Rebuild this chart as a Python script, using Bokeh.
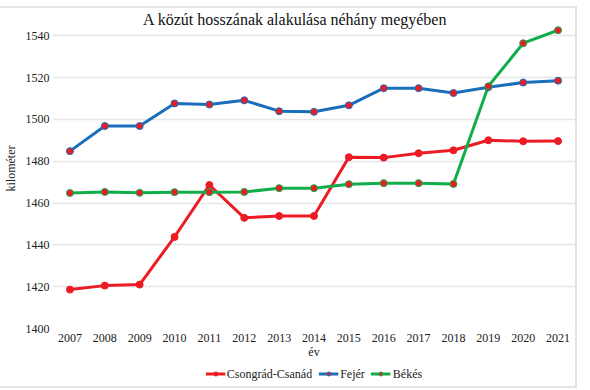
from bokeh.plotting import figure
from bokeh.layouts import column
from bokeh.models import Legend, LegendItem, FixedTicker, ColumnDataSource, Label
from bokeh.embed import file_html
from bokeh.resources import INLINE

years = list(range(2007, 2022))
csongrad = [1418.6, 1420.5, 1421.0, 1443.8, 1468.6, 1452.9, 1453.8, 1453.8,
            1481.9, 1481.7, 1483.8, 1485.2, 1490.0, 1489.5, 1489.6]
fejer = [1484.8, 1496.8, 1496.8, 1507.6, 1507.1, 1509.1, 1503.9, 1503.6,
         1506.7, 1514.9, 1514.9, 1512.6, 1515.3, 1517.6, 1518.5]
bekes = [1464.8, 1465.3, 1464.9, 1465.2, 1465.2, 1465.3, 1467.1, 1467.1,
         1469.0, 1469.5, 1469.5, 1469.1, 1515.8, 1536.4, 1542.6]
series_names = ["Csongrád-Csanád", "Fejér", "Békés"]
line_colors = ["#ec1c24", "#1a6fba", "#12ad4b"]
marker_color = "#ec1c24"
y_ticks = [1400, 1420, 1440, 1460, 1480, 1500, 1520, 1540]
title_text = "A közút hosszának alakulása néhány megyében"

FONT = "Liberation Serif"

p = figure(width=575, height=353, output_backend="svg", toolbar_location=None,
           x_range=(2006.5, 2021.5), y_range=(1400, 1553),
           min_border_left=0, min_border_right=0, min_border_top=0, min_border_bottom=0)

p.outline_line_color = None
p.xgrid.grid_line_color = None
p.ygrid.grid_line_color = "#e6e6e6"
p.ygrid.grid_line_width = 1.5

p.xaxis.ticker = FixedTicker(ticks=years)
p.yaxis.ticker = FixedTicker(ticks=y_ticks)
for ax in (p.xaxis, p.yaxis):
    ax.axis_line_color = None
    ax.major_tick_line_color = None
    ax.minor_tick_line_color = None
    ax.major_tick_out = 0
    ax.major_tick_in = 0
    ax.minor_tick_out = 0
    ax.minor_tick_in = 0
    ax.major_label_text_font = FONT
    ax.major_label_text_font_size = "12px"
    ax.major_label_text_color = "#222222"
    ax.axis_label_text_font = FONT
    ax.axis_label_text_font_size = "12px"
    ax.axis_label_text_font_style = "normal"
    ax.axis_label_text_color = "#222222"
p.xaxis.axis_label = "év"
p.yaxis.axis_label = "kilométer"
p.xaxis.major_label_standoff = 5
p.xaxis.axis_label_standoff = 0
p.yaxis.major_label_standoff = 3
p.yaxis.axis_label_standoff = 5

# title drawn inside the top of the frame
p.add_layout(Label(x=2013.46, y=1547.6, text=title_text, text_align="center",
                   text_baseline="middle", text_font=FONT, text_font_size="16px",
                   text_color="#111111"))

renderers = []
for name, vals, col in zip(series_names, [csongrad, fejer, bekes], line_colors):
    src = ColumnDataSource(dict(x=years, y=vals))
    p.line("x", "y", source=src, line_color=col, line_width=3)
    renderers.append((name, src, col))
for name, src, col in renderers:
    p.scatter("x", "y", source=src, size=7, fill_color=marker_color,
              line_color=col, line_width=1, marker="circle")

# legend strip below the chart (its glyphs' data lie outside its visible range)
lg = figure(width=575, height=25, output_backend="svg", toolbar_location=None,
            x_range=(0, 1), y_range=(0, 1), min_border=0)
lg.axis.visible = False
lg.grid.grid_line_color = None
lg.outline_line_color = None
items = []
for name, src, col in renderers:
    l2 = lg.line("x", "y", source=src, line_color=col, line_width=3)
    s2 = lg.scatter("x", "y", source=src, size=6, fill_color=marker_color,
                    line_color=col, line_width=1, marker="circle")
    items.append(LegendItem(label=name, renderers=[l2, s2]))
legend = Legend(items=items, orientation="horizontal", location="center",
                label_text_font=FONT, label_text_font_size="12px",
                label_text_color="#222222", glyph_width=20, glyph_height=10,
                spacing=6, label_standoff=2, padding=0, margin=0,
                border_line_color=None, background_fill_alpha=0)
lg.add_layout(legend)

layout = column(p, lg, spacing=0,
                styles={"outline": "2px solid #e4e4e4", "margin-top": "8px"})

open("out.html", "w").write(file_html(layout, INLINE))
